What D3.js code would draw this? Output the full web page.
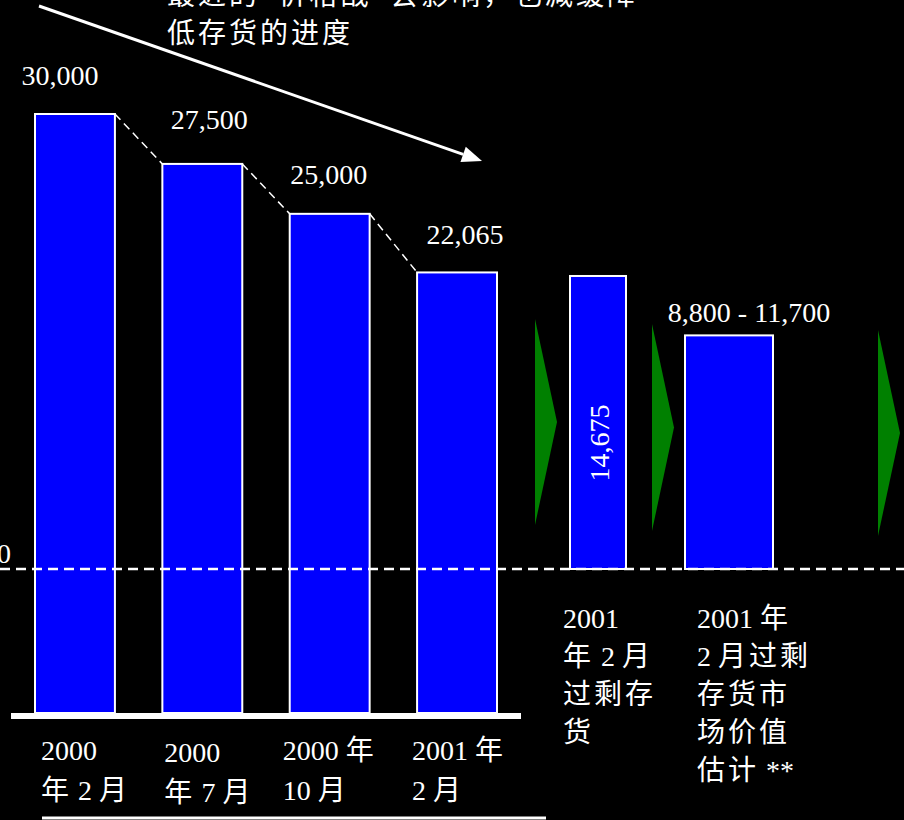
<!DOCTYPE html>
<html>
<head>
<meta charset="utf-8">
<script src="https://cdn.jsdelivr.net/npm/d3@7"></script>
<style>
  html, body { margin: 0; padding: 0; background: #000; }
  svg { display: block; }
  text { font-family: "Liberation Serif", "Noto Sans CJK SC", serif; fill: #fff; }
</style>
</head>
<body>
<div id="chart"></div>
<script>
// ---- data ----
let histCategories = ["2000年2月", "2000年7月", "2000年10月", "2001年2月"];
let histValues = [30000, 27500, 25000, 22065];
let histLabels = ["30,000", "27,500", "25,000", "22,065"];
let histTickLines = [
    ["2000", "年 2 月"],
    ["2000", "年 7 月"],
    ["2000 年", "10 月"],
    ["2001 年", "2 月"]
];

let surplusCategories = ["过剩存货", "市场价值估计"];
let surplusLow = [14675, 8800];
let surplusHigh = [14675, 11700];
let surplusLabels = ["14,675", "8,800 - 11,700"];
let surplusTickLines = [
    ["2001", "年 2 月", "过剩存", "货"],
    ["2001 年", "2 月过剩", "存货市", "场价值", "估计 **"]
];

let noteLines = ["最近的  \"价格战\"  会影响，也减缓降", "低存货的进度"];

// ---- layout ----
let width = 904, height = 820;
let svg = d3.select("#chart").append("svg")
    .attr("width", width)
    .attr("height", height);

svg.append("rect").attr("width", width).attr("height", height).attr("fill", "#000");

let fontSize = 28;
let barFill = "#0000ff";

// writes a line as runs so that only the CJK characters get extra spacing
function addLine(textSel, str, xPos, dy, spacing) {
    let runs = str.match(/[\u3000-\u9fff\uff00-\uffef]+|[^\u3000-\u9fff\uff00-\uffef]+/g) || [];
    runs.forEach((r, i) => {
        let ts = textSel.append("tspan").text(r);
        if (i === 0) ts.attr("x", xPos).attr("dy", dy);
        if (/[\u3000-\u9fff\uff00-\uffef]/.test(r)) ts.attr("letter-spacing", spacing);
    });
}

// left scale (historical inventory)
let x = d3.scaleBand()
    .domain(histCategories)
    .range([35, 497])
    .paddingInner(0.3725)
    .paddingOuter(0);
let y = d3.scaleLinear().domain([0, 30000]).range([713, 114]);

// right scale (surplus) shares the same units, different baseline
let k = (y(0) - y(30000)) / 30000;
let y2 = d3.scaleLinear().domain([0, 30000]).range([569, 569 - 30000 * k]);
let x2 = d3.scalePoint().domain(surplusCategories).range([598, 729]);
let x2Width = [56, 88];

// left bars
svg.append("g").selectAll("rect")
    .data(histValues)
    .join("rect")
    .attr("x", (d, i) => x(histCategories[i]))
    .attr("y", d => y(d))
    .attr("width", x.bandwidth())
    .attr("height", d => y(0) - y(d))
    .attr("fill", barFill)
    .attr("stroke", "#fff")
    .attr("stroke-width", 2);

// dashed connectors between bar tops
let conn = d3.pairs(histValues.map((v, i) => ({v: v, c: histCategories[i]})));
svg.append("g").selectAll("line")
    .data(conn)
    .join("line")
    .attr("x1", d => x(d[0].c) + x.bandwidth())
    .attr("y1", d => y(d[0].v))
    .attr("x2", d => x(d[1].c))
    .attr("y2", d => y(d[1].v))
    .attr("stroke", "#fff")
    .attr("stroke-width", 1.5)
    .attr("stroke-dasharray", "8,5");

// value labels on left bars
let valDx = [-15, 7, -1, 8];
let valDy = [-29, -35, -30, -28];
svg.append("g").selectAll("text")
    .data(histLabels)
    .join("text")
    .attr("x", (d, i) => x(histCategories[i]) + x.bandwidth() / 2 + valDx[i])
    .attr("y", (d, i) => y(histValues[i]) + valDy[i])
    .attr("text-anchor", "middle")
    .attr("font-size", fontSize)
    .text(d => d);

// axis line under left bars
svg.append("line")
    .attr("x1", 11).attr("x2", 521)
    .attr("y1", y(0) + 3).attr("y2", y(0) + 3)
    .attr("stroke", "#fff")
    .attr("stroke-width", 6);

// left category labels
let tickDx = [6, 2, -7, -5];
let tickDy = [0, 2, 0, 0];
histTickLines.forEach((lines, i) => {
    let tx = x(histCategories[i]) + tickDx[i];
    let t = svg.append("text")
        .attr("font-size", fontSize)
        .attr("x", tx)
        .attr("y", 760 + tickDy[i]);
    lines.forEach((ln, j) => addLine(t, ln, tx, j === 0 ? 0 : 40, 2));
});

// bottom rule
svg.append("line")
    .attr("x1", 42).attr("x2", 546)
    .attr("y1", 818).attr("y2", 818)
    .attr("stroke", "#fff")
    .attr("stroke-width", 3);

// surplus bars
svg.append("g").selectAll("rect")
    .data(surplusHigh)
    .join("rect")
    .attr("x", (d, i) => x2(surplusCategories[i]) - x2Width[i] / 2)
    .attr("y", d => y2(d))
    .attr("width", (d, i) => x2Width[i])
    .attr("height", d => y2(0) - y2(d))
    .attr("fill", barFill)
    .attr("stroke", "#fff")
    .attr("stroke-width", 2);

// dashed zero line for the surplus group (drawn over the bars)
svg.append("line")
    .attr("x1", 0).attr("x2", width)
    .attr("y1", y2(0)).attr("y2", y2(0))
    .attr("stroke", "#fff")
    .attr("stroke-width", 2.5)
    .attr("stroke-dasharray", "10,6");

svg.append("text")
    .attr("x", 11).attr("y", y2(0) - 6)
    .attr("text-anchor", "end")
    .attr("font-size", fontSize)
    .text("0");

// rotated label inside first surplus bar
svg.append("text")
    .attr("transform", `translate(${x2(surplusCategories[0]) + 11},${y2(surplusHigh[0]) + 167}) rotate(-90)`)
    .attr("text-anchor", "middle")
    .attr("font-size", fontSize)
    .text(surplusLabels[0]);

// range label above second surplus bar
svg.append("text")
    .attr("x", x2(surplusCategories[1]) + 20)
    .attr("y", y2(surplusHigh[1]) - 13)
    .attr("text-anchor", "middle")
    .attr("font-size", fontSize)
    .text(surplusLabels[1]);

// surplus category labels
let sTickX = [563, 697];
surplusTickLines.forEach((lines, i) => {
    let t = svg.append("text")
        .attr("font-size", fontSize)
        .attr("x", sTickX[i])
        .attr("y", 628);
    lines.forEach((ln, j) => addLine(t, ln, sTickX[i], j === 0 ? 0 : 38, 3));
});

// green chevrons
let chevrons = [
    {x: 535, top: 319, bottom: 525},
    {x: 652, top: 324, bottom: 531},
    {x: 878, top: 330, bottom: 536}
];
svg.append("g").selectAll("path")
    .data(chevrons)
    .join("path")
    .attr("d", d => `M${d.x},${d.top} L${d.x + 22},${(d.top + d.bottom) / 2} L${d.x},${d.bottom} Z`)
    .attr("fill", "#008000");

// trend arrow
let a0 = [39, 6], a1 = [482, 161];
let dx = a1[0] - a0[0], dy = a1[1] - a0[1];
let len = Math.sqrt(dx * dx + dy * dy);
let ux = dx / len, uy = dy / len;
let hl = 20, hw = 8;
let base = [a1[0] - ux * hl, a1[1] - uy * hl];
svg.append("line")
    .attr("x1", a0[0]).attr("y1", a0[1])
    .attr("x2", base[0]).attr("y2", base[1])
    .attr("stroke", "#fff")
    .attr("stroke-width", 3);
svg.append("path")
    .attr("d", `M${a1[0]},${a1[1]} L${base[0] - uy * hw},${base[1] + ux * hw} L${base[0] + uy * hw},${base[1] - ux * hw} Z`)
    .attr("fill", "#fff");

// annotation text (top, partly cut off as in the source slide)
let note = svg.append("text")
    .attr("font-size", fontSize)
    .attr("x", 167)
    .attr("y", 5);
noteLines.forEach((ln, j) => addLine(note, ln, 167, j === 0 ? 0 : 38, 3));
</script>
</body>
</html>
